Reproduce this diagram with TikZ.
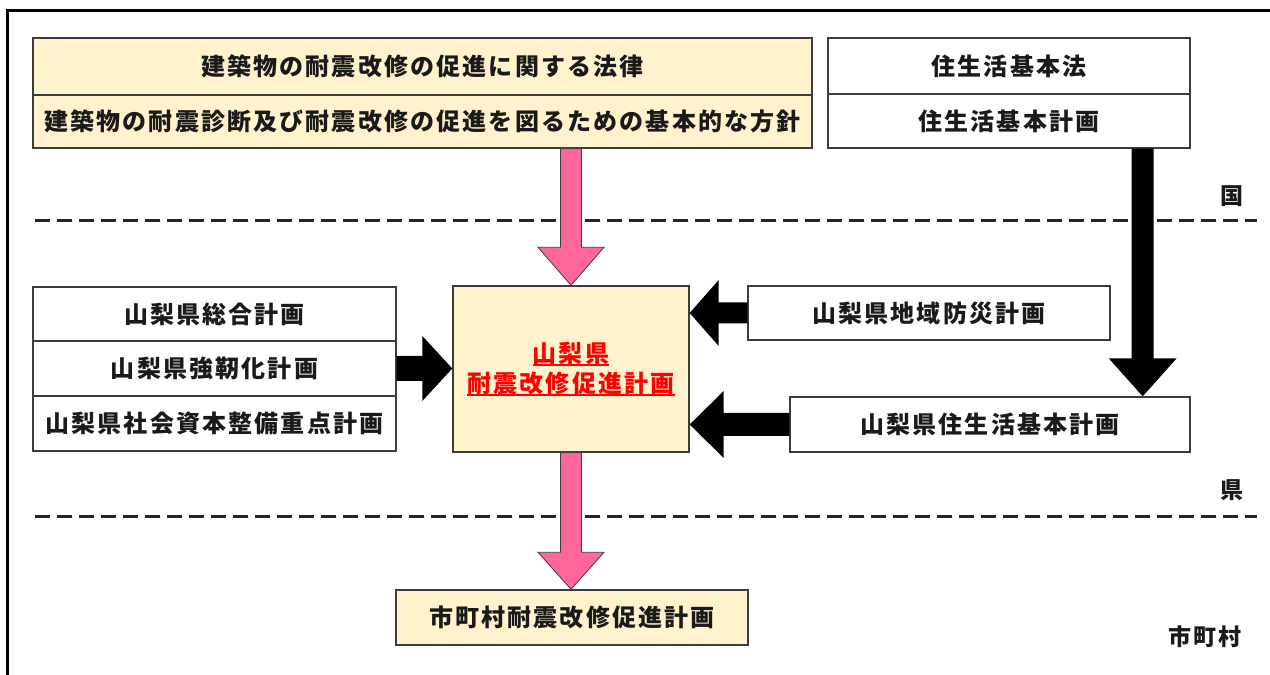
\documentclass[tikz,border=0pt]{standalone}
\usepackage{fontspec}
\setmainfont{Noto Sans CJK JP}[LetterSpace=9]
\usetikzlibrary{calc}
\definecolor{boxyellow}{RGB}{255,242,204}
\definecolor{arrowpink}{RGB}{255,102,153}
\definecolor{boxedge}{RGB}{60,60,60}
\definecolor{txt}{RGB}{26,26,26}
\newcommand\redul[1]{\setbox0\hbox{#1}\rlap{\raisebox{-3.5pt}{\rule{\wd0}{1.6pt}}}\box0}
\newcommand\blkdown[6]{\path[#1] let \p1=(#2), \p2=(#3) in (\x1-#4,\y1) -- (\x1-#4,\y2+#6) -- (\x1-#5,\y2+#6) -- (\x1,\y2) -- (\x1+#5,\y2+#6) -- (\x1+#4,\y2+#6) -- (\x1+#4,\y1) -- cycle;}
\newcommand\blkright[6]{\path[#1] let \p1=(#2), \p2=(#3) in (\x1,\y1+#4) -- (\x2-#6,\y1+#4) -- (\x2-#6,\y1+#5) -- (\x2,\y1) -- (\x2-#6,\y1-#5) -- (\x2-#6,\y1-#4) -- (\x1,\y1-#4) -- cycle;}
\newcommand\blkleft[6]{\path[#1] let \p1=(#2), \p2=(#3) in (\x1,\y1+#4) -- (\x2+#6,\y1+#4) -- (\x2+#6,\y1+#5) -- (\x2,\y1) -- (\x2+#6,\y1-#5) -- (\x2+#6,\y1-#4) -- (\x1,\y1-#4) -- cycle;}
\begin{document}
\begin{tikzpicture}[x=1pt,y=1pt,
  box/.style={draw=boxedge, line width=1.4pt, inner sep=0pt, font=\bfseries\fontsize{24}{30}\selectfont, text=txt},
  ybox/.style={box, fill=boxyellow},
  wbox/.style={box, fill=white},
  pinkarrow/.style={fill=arrowpink, draw=boxedge, line width=0.8pt},
  blackarrow/.style={fill=black},
  level/.style={draw=black!85, line width=3pt, dash pattern=on 15pt off 7pt},
  lvl/.style={font=\bfseries\fontsize{23}{27}\selectfont, text=txt, inner sep=0pt}]
\clip (0,0) rectangle (1270,675);
\fill[white] (0,0) rectangle (1270,675);
\draw[line width=3pt] (7,-20) rectangle (1300,664);
% level lines
\draw[level] (35,454) -- (1257,454);
\draw[level] (35,158) -- (1257,158);
\node[lvl] (kuni) at (1232,479) {国};
\node[lvl] (ken) at (1232,185) {県};
\node[lvl] (shichoson) at (1205,38) {市町村};
% top boxes
\node[ybox, minimum width=779, minimum height=57] (law1) at (422.5,608.5) {建築物の耐震改修の促進に関する法律};
\node[ybox, minimum width=779, minimum height=53] (law2) at (422.5,553.5) {建築物の耐震診断及び耐震改修の促進を図るための基本的な方針};
\node[wbox, minimum width=362, minimum height=56] (jlaw) at (1009,609) {住生活基本法};
\node[wbox, minimum width=362, minimum height=54] (jplan) at (1009,554) {住生活基本計画};
% left stack
\node[wbox, minimum width=363, minimum height=54] (s1) at (214.5,361) {山梨県総合計画};
\node[wbox, minimum width=363, minimum height=55] (s2) at (214.5,306.5) {山梨県強靭化計画};
\node[wbox, minimum width=363, minimum height=55] (s3) at (214.5,251.5) {山梨県社会資本整備重点計画};
% center
\node[ybox, minimum width=236, minimum height=166, align=center, text=red] (center) at (571,306) {\redul{山梨県}\\\redul{耐震改修促進計画}};
% right
\node[wbox, minimum width=362, minimum height=54] (bousai) at (929,362) {山梨県地域防災計画};
\node[wbox, minimum width=400, minimum height=55] (kenjuu) at (990,250.5) {山梨県住生活基本計画};
% bottom
\node[ybox, minimum width=352, minimum height=55] (shi) at (572,57.5) {市町村耐震改修促進計画};
% arrows
\coordinate (p1s) at (center.north |- law2.south);
\blkdown{pinkarrow}{p1s}{center.north}{10.5}{33}{38}
\coordinate (p2t) at (center.south |- shi.north);
\blkdown{pinkarrow}{center.south}{p2t}{10.5}{33}{37}
\coordinate (vs) at ($(jplan.south east)+(-48,0)$);
\coordinate (vt) at (vs |- kenjuu.north);
\blkdown{blackarrow}{vs}{vt}{11}{34}{38}
\coordinate (lt) at (center.west |- s2.east);
\blkright{blackarrow}{s2.east}{lt}{12.5}{32.5}{30}
\coordinate (rt1) at (center.east |- bousai.west);
\blkleft{blackarrow}{bousai.west}{rt1}{10.5}{33}{29}
\coordinate (rt2) at (center.east |- kenjuu.west);
\blkleft{blackarrow}{kenjuu.west}{rt2}{11.5}{33.5}{34}
\end{tikzpicture}
\end{document}
